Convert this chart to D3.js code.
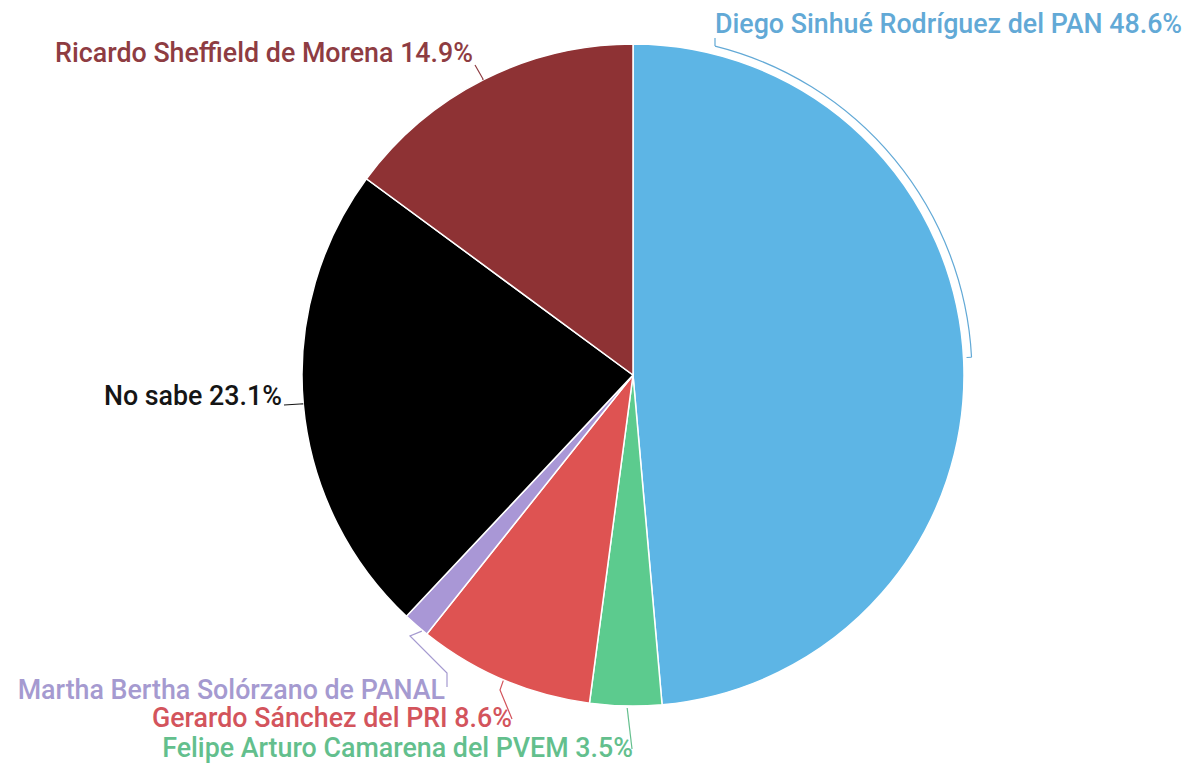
<!DOCTYPE html>
<html>
<head>
<meta charset="utf-8">
<script src="https://cdn.jsdelivr.net/npm/d3@7"></script>
<style>
  body { margin: 0; background: #fff; }
  svg { display: block; }
</style>
</head>
<body>
<div class="chart"></div>
<script>
  // Data
  const names = [
    'Diego Sinhué Rodríguez del PAN',
    'Felipe Arturo Camarena del PVEM',
    'Gerardo Sánchez del PRI',
    'Martha Bertha Solórzano de PANAL',
    'No sabe',
    'Ricardo Sheffield de Morena'
  ];
  const values = [48.6, 3.5, 8.6, 1.3, 23.1, 14.9];
  const showPct = [true, true, true, false, true, true];
  const colors = ['#5db5e5', '#5ccb8e', '#de5352', '#a997d6', '#000000', '#8e3234'];
  const textColors = ['#62a9d6', '#63bf8d', '#d3545c', '#a59ad0', '#151515', '#8e3c42'];

  const width = 1196;
  const height = 771;
  const cx = 633, cy = 375, radius = 331;

  const svg = d3.select('.chart')
      .append('svg')
      .attr('width', width)
      .attr('height', height);

  const rows = names.map((n, i) => ({name: n, value: values[i], i: i}));

  const pie = d3.pie().sort(null).value(d => d.value);
  const arcs = pie(rows);
  const arc = d3.arc().innerRadius(0).outerRadius(radius);

  const g = svg.append('g').attr('transform', `translate(${cx},${cy})`);

  g.selectAll('path.slice')
      .data(arcs)
      .enter().append('path')
      .attr('class', 'slice')
      .attr('d', arc)
      .attr('fill', d => colors[d.data.i])
      .attr('stroke', '#fff')
      .attr('stroke-width', 1.5);

  // point on circle, angle in degrees clockwise from top
  function pt(deg, r) {
    const a = deg * Math.PI / 180;
    return [Math.sin(a) * r, -Math.cos(a) * r];
  }

  // label layout (relative to pie centre)
  const labelLayout = [
    {x: 82, y: -342, anchor: 'start'},
    {x: 0, y: 382, anchor: 'end'},
    {x: -121, y: 352, anchor: 'end'},
    {x: -188, y: 324, anchor: 'end'},
    {x: -351, y: 30, anchor: 'end'},
    {x: -160, y: -313, anchor: 'end'}
  ];

  const fmt = d3.format('.1f');
  g.selectAll('text.lbl')
      .data(arcs)
      .enter().append('text')
      .attr('class', 'lbl')
      .attr('x', d => labelLayout[d.data.i].x)
      .attr('y', d => labelLayout[d.data.i].y)
      .attr('text-anchor', d => labelLayout[d.data.i].anchor)
      .attr('font-family', 'Roboto, sans-serif')
      .attr('font-size', '26.8px')
      .attr('font-weight', 500)
      .attr('fill', d => textColors[d.data.i])
      .text(d => d.data.name + (showPct[d.data.i] ? ' ' + fmt(d.data.value) + '%' : ''));

  // connectors
  const line = d3.line();
  const conn = [
    null,
    [[-1, 374], pt(181, radius + 2)],
    [[-121, 344], [-133, 315], pt(203, radius + 1)],
    [[-186, 312], [-186, 298], [-223, 261], pt(219.5, radius + 1)],
    [[-349, 30], [-333, 29], pt(265, radius)],
    [[-158, -310], [-150, -296], pt(333, radius)]
  ];
  conn.forEach((pts, i) => {
    if (!pts) return;
    g.append('path')
        .attr('d', line(pts))
        .attr('fill', 'none')
        .attr('stroke', textColors[i])
        .attr('stroke-width', 1.2);
  });

  // bracket arc for the big slice
  const bracket = d3.arc()
      .innerRadius(radius + 8)
      .outerRadius(radius + 8)
      .startAngle(14 * Math.PI / 180)
      .endAngle(87 * Math.PI / 180);
  g.append('path')
      .attr('d', bracket())
      .attr('fill', 'none')
      .attr('stroke', textColors[0])
      .attr('stroke-width', 1.2);
  const t0 = pt(87, radius + 8), t1 = pt(87, radius + 3);
  const s0 = pt(14, radius + 8);
  g.append('path')
      .attr('d', line([t0, t1]))
      .attr('stroke', textColors[0])
      .attr('stroke-width', 1.2);
  g.append('path')
      .attr('d', line([s0, [82, -337]]))
      .attr('fill', 'none')
      .attr('stroke', textColors[0])
      .attr('stroke-width', 1.2);
</script>
</body>
</html>
